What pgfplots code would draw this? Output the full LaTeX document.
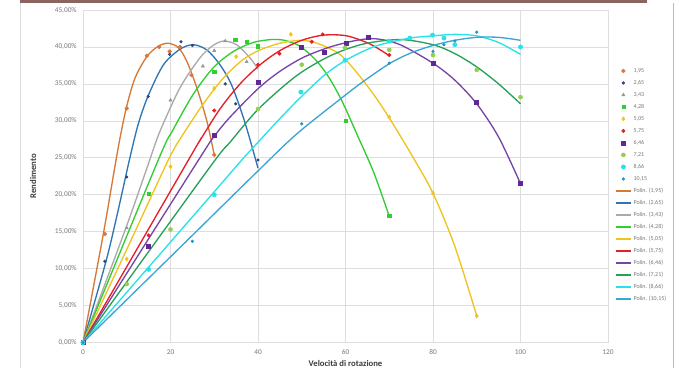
\documentclass[border=0pt]{standalone}
\usepackage{pgfplots}
\pgfplotsset{compat=1.18}
\usepackage{fontspec}
\setmainfont{Carlito}
\definecolor{tickgray}{RGB}{120,120,120}
\definecolor{labgray}{RGB}{60,60,60}
\definecolor{gridc}{RGB}{222,222,222}
\definecolor{cA}{RGB}{214,121,53}
\definecolor{cAm}{RGB}{220,118,60}
\definecolor{cB}{RGB}{46,117,182}
\definecolor{cBm}{RGB}{50,70,125}
\definecolor{cC}{RGB}{170,170,170}
\definecolor{cCm}{RGB}{150,150,150}
\definecolor{cD}{RGB}{50,205,50}
\definecolor{cE}{RGB}{240,195,30}
\definecolor{cF}{RGB}{230,30,40}
\definecolor{cG}{RGB}{118,70,165}
\definecolor{cGm}{RGB}{95,40,150}
\definecolor{cH}{RGB}{40,160,90}
\definecolor{cHm}{RGB}{146,208,80}
\definecolor{cI}{RGB}{40,225,235}
\definecolor{cJ}{RGB}{60,165,210}
\definecolor{cJm}{RGB}{40,150,190}
\definecolor{bandc}{RGB}{140,100,95}
\begin{document}
\begin{tikzpicture}
\useasboundingbox (-62.25pt,-19.1pt) rectangle (447pt,256.9pt);
\fill[white] (-62.25pt,-19.1pt) rectangle (447pt,256.9pt);
\begin{axis}[
  at={(0,0)}, anchor=south west,
  width=393.75pt, height=249.4pt, scale only axis,
  xmin=0, xmax=120, ymin=0, ymax=45,
  xtick={0,20,...,120}, ytick={0,5,...,45},
  grid=major, major grid style={draw=gridc, line width=0.5pt},
  axis line style={draw=gridc, line width=0.5pt},
  tick style={draw=none},
  /pgf/number format/assume math mode=true,
  yticklabel={\pgfmathprintnumber[fixed,fixed zerofill,precision=2,use comma]{\tick}\%},
  ticklabel style={font=\fontsize{5.5}{6}\selectfont, text=tickgray},
  yticklabel style={anchor=east, inner sep=0pt, xshift=-4.5pt},
  xticklabel style={anchor=center, inner sep=0pt, yshift=-7.2pt},
  xlabel={Velocità di rotazione}, ylabel={Rendimento},
  label style={font=\bfseries\fontsize{6.5}{7}\selectfont, text=labgray},
  xlabel style={at={(axis description cs:0.5,-0.0625)}, anchor=center},
  ylabel style={at={(axis description cs:-0.0952,0.5)}, anchor=center},
  legend cell align=left,
  legend style={at={(axis description cs:1.0133,0.826)}, anchor=north west, draw=none, fill=none,
    inner sep=0pt, font=\fontsize{4.5}{5}\selectfont, text=tickgray,
    row sep=4.8pt, column sep=1.5pt, nodes={inner sep=0pt, text height=3.2pt, text depth=1pt}},
  mleg/.style={legend image code/.code={\draw[mark repeat=2,mark phase=2] plot coordinates {(0pt,0pt)(5.6pt,0pt)(11.2pt,0pt)};}},
  lleg/.style={legend image code/.code={\draw (0pt,0pt)--(11.2pt,0pt);}},
  mk/.style={only marks, mleg},
  ln/.style={no marks, smooth, line width=1pt, lleg},
]
% ---- data points
\addplot[mk, mark=*, mark size=1.4pt, color=cAm] coordinates {(0,0)(5,14.7)(10,31.7)(14.6,38.8)(17.4,40.0)(19.8,39.4)(22.2,40.0)(24.8,36.2)(30,25.4)};
\addlegendentry{1,95}
\addplot[mk, mark=*, mark size=1.0pt, color=cBm] coordinates {(0,0)(5,11.0)(10,22.4)(14.9,33.3)(19.8,39.0)(22.4,40.7)(25,40.2)(32.5,35.0)(34.9,32.3)(40,24.7)};
\addlegendentry{2,65}
\addplot[mk, mark=triangle*, mark size=1.3pt, color=cCm] coordinates {(0,0)(10,15.5)(20,32.8)(27.4,37.4)(30,39.5)(32.5,40.8)(37.4,38.0)};
\addlegendentry{3,43}
\addplot[mk, mark=square*, mark size=1.2pt, color=cD] coordinates {(0,0)(15,20.1)(30,36.6)(34.8,41.0)(37.4,40.7)(40,40.1)(60,30.0)(70,17.2)};
\addlegendentry{4,28}
\addplot[mk, mark=diamond*, mark size=1.5pt, color=cE] coordinates {(0,0)(10,11.3)(20,23.8)(30,34.4)(35,38.7)(47.5,41.7)(70,30.5)(80,20.2)(90,3.6)};
\addlegendentry{5,05}
\addplot[mk, mark=*, mark size=1.3pt, color=cF] coordinates {(0,0)(15,14.5)(30,31.4)(40,37.6)(44.9,39.1)(52.3,40.7)(54.8,41.7)(70,38.9)};
\addlegendentry{5,75}
\addplot[mk, mark=square*, mark size=1.5pt, color=cGm] coordinates {(0,0)(15,13.0)(30,28.0)(40,35.2)(50,39.9)(55.2,39.3)(60.1,40.5)(65.1,41.3)(80,37.8)(90,32.5)(100,21.5)};
\addlegendentry{6,46}
\addplot[mk, mark=*, mark size=1.5pt, color=cHm] coordinates {(0,0)(10,7.9)(20,15.3)(40,31.6)(50,37.6)(59.9,39.9)(70,39.6)(80,38.9)(90,36.9)(100,33.2)};
\addlegendentry{7,21}
\addplot[mk, mark=*, mark size=1.6pt, color=cI] coordinates {(0,0)(15,9.9)(30,20.0)(49.8,33.9)(59.9,38.2)(70,40.8)(74.7,41.2)(79.9,41.6)(82.5,41.2)(85,40.3)(100,40.0)};
\addlegendentry{8,66}
\addplot[mk, mark=*, mark size=1.0pt, color=cJm] coordinates {(0,0)(25,13.7)(50,29.6)(70,37.8)(80,39.4)(82.5,40.3)(85,40.8)(90,42.0)};
\addlegendentry{10,15}
% ---- polynomial trend lines
\addplot[ln, color=cA] coordinates {(0,0)(4.65,14.7)(7.2,23.5)(8.5,27.8)(10,32.0)(11.9,35.8)(14.6,38.7)(17.2,40.1)(19.5,40.5)(21.8,39.9)(23.7,38.1)(26,34.5)(28.3,30.0)(30,25.4)};
\addlegendentry{Polin. (1,95)}
\addplot[ln, color=cB] coordinates {(0,0)(5.26,11.0)(8,17.8)(10.6,24.7)(12.6,29.5)(14.9,33.4)(18.4,37.6)(22.2,39.7)(25.2,40.3)(28.3,39.6)(31.3,37.6)(34,34.8)(37,29.8)(40,23.6)};
\addlegendentry{Polin. (2,65)}
\addplot[ln, color=cC] coordinates {(0,0)(9.8,15.5)(14.9,24.1)(17.6,28.6)(22.2,34.5)(26.7,38.5)(29.5,40.1)(32.1,40.8)(35.1,40.3)(38.2,38.5)(40,37.0)};
\addlegendentry{Polin. (3,43)}
\addplot[ln, color=cD] coordinates {(0,0)(17.2,24.7)(20.6,28.8)(25.2,33.6)(29.8,37.2)(34.4,39.4)(38.9,40.6)(43,41.0)(46,40.9)(49.6,40.1)(53.4,38.1)(56.5,35.6)(59.5,32.3)(62.6,28.2)(66.4,23.1)(70,17.1)};
\addlegendentry{Polin. (4,28)}
\addplot[ln, color=cE] coordinates {(0,0)(10,12.6)(19.5,24.7)(22.9,28.2)(27.5,32.3)(32.1,35.8)(36.6,38.3)(40.5,39.6)(45,40.5)(50,40.9)(54,40.4)(58.7,39.0)(62.5,36.6)(66.4,33.6)(70,30.4)(75,25.5)(80,20.2)(85,13.0)(90,3.6)};
\addlegendentry{Polin. (5,05)}
\addplot[ln, color=cF] coordinates {(0,0)(24.1,24.7)(26.7,27.3)(31.3,31.6)(35.9,35.0)(40.5,37.6)(45,39.5)(50,40.9)(55,41.6)(60.3,41.5)(65.6,40.4)(69.8,38.9)};
\addlegendentry{Polin. (5,75)}
\addplot[ln, color=cG] coordinates {(0,0)(26.4,24.7)(30,27.9)(33.6,30.5)(40.1,34.4)(45,36.7)(50.4,38.6)(56.5,40.0)(62.6,40.9)(67,41.1)(72.5,40.3)(80,37.8)(85,35.5)(90,32.3)(95,27.8)(100,21.5)};
\addlegendentry{Polin. (6,46)}
\addplot[ln, color=cH] coordinates {(0,0)(15,12.3)(30.2,24.7)(33.6,27.1)(40.1,31.6)(48.8,36.1)(56.5,38.8)(64.1,40.4)(72.5,41.0)(80,40.3)(85,39.1)(90,37.3)(95,35.0)(100,32.3)};
\addlegendentry{Polin. (7,21)}
\addplot[ln, color=cI] coordinates {(0,0)(15,10.2)(30,20.4)(36.3,24.7)(40,27.1)(45,30.3)(49.6,33.1)(55,36.1)(59.5,38.0)(64,39.4)(67.9,40.3)(74.7,41.2)(80,41.5)(85,41.7)(90,41.5)(95,40.6)(100,39.0)};
\addlegendentry{Polin. (8,66)}
\addplot[ln, color=cJ] coordinates {(0,0)(20,11.6)(40.3,23.4)(48.8,28.2)(58.7,32.9)(64,35.3)(70.2,37.8)(75,39.2)(80,40.2)(85,40.9)(90,41.3)(95,41.3)(100,40.9)};
\addlegendentry{Polin. (10,15)}
\end{axis}
\fill[bandc] (-47.25pt,256.9pt) rectangle (423pt,254.9pt);
\draw[gray!30, line width=0.6pt] (-47pt,-19.1pt) -- (-47pt,254.9pt);
\draw[gray!55, line width=1pt] (442.7pt,-19.1pt) -- (442.7pt,254.9pt);
\end{tikzpicture}
\end{document}
